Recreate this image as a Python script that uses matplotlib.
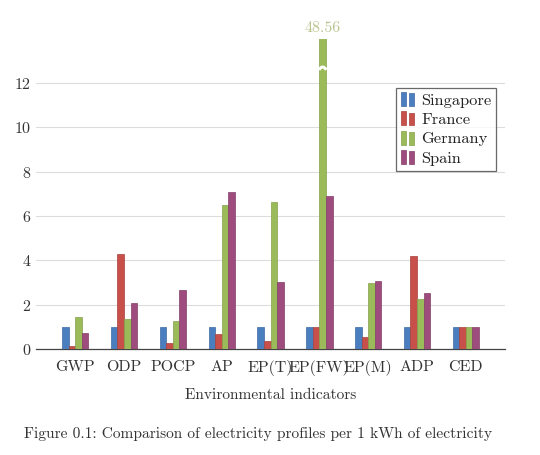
import numpy as np
import matplotlib
matplotlib.use("Agg")
import matplotlib.pyplot as plt
from matplotlib.patches import Rectangle
from matplotlib.legend_handler import HandlerBase

plt.rcParams["font.family"] = "cmr10"
plt.rcParams["mathtext.fontset"] = "cm"
plt.rcParams["axes.formatter.use_mathtext"] = True

# Data
indicators = ["GWP", "ODP", "POCP", "AP", "EP(T)", "EP(FW)", "EP(M)", "ADP", "CED"]
countries = ["Singapore", "France", "Germany", "Spain"]
singapore = [1, 1, 1, 1, 1, 1, 1, 1, 1]
france = [0.12, 4.3, 0.27, 0.67, 0.38, 1.0, 0.55, 4.2, 1.0]
germany = [1.43, 1.37, 1.27, 6.5, 6.65, 48.56, 2.97, 2.25, 1.0]
spain = [0.73, 2.07, 2.68, 7.1, 3.03, 6.9, 3.05, 2.53, 1.0]
series = [singapore, france, germany, spain]

colors = ["#4a7ebf", "#c8504b", "#9bbb5a", "#9e4c7e"]
edges = ["#3d6aa3", "#a8403c", "#84a149", "#843e69"]


class TwoBarHandler(HandlerBase):
    # pgfplots-like ybar legend glyph: two small bars
    def create_artists(self, legend, orig_handle, xdescent, ydescent,
                       width, height, fontsize, trans):
        fc = orig_handle.get_facecolor()
        ec = orig_handle.get_edgecolor()
        w = width * 0.3
        r1 = Rectangle((-xdescent + width * 0.02, -ydescent - 1), w, height + 2,
                       facecolor=fc, edgecolor=ec, lw=0.5, transform=trans)
        r2 = Rectangle((-xdescent + width * 0.52, -ydescent - 1), w, height + 1,
                       facecolor=fc, edgecolor=ec, lw=0.5, transform=trans)
        return [r1, r2]


fig = plt.figure(figsize=(5.4, 4.55), dpi=100)
ax = fig.add_axes([0.067, 0.233, 0.868, 0.682])

x = np.arange(len(indicators))
w = 0.135
handles = []
for i, (vals, name) in enumerate(zip(series, countries)):
    bars = ax.bar(x + (i - 1.5) * w, vals, width=w, color=colors[i],
                  edgecolor=edges[i], linewidth=0.5, label=name, zorder=3)
    handles.append(bars[0])

ax.set_ylim(0, 14)
ax.set_xlim(-0.8, len(indicators) - 0.2)
ax.set_yticks([0, 2, 4, 6, 8, 10, 12])
ax.set_xticks(x)
ax.set_xticklabels(indicators)
ax.tick_params(axis="both", length=0, labelsize=11.5, colors="#333333")
ax.tick_params(axis="x", pad=8)
ax.grid(axis="y", color="#dcdcdc", linewidth=0.8, zorder=0)
for s in ["top", "right", "left"]:
    ax.spines[s].set_visible(False)
ax.spines["bottom"].set_color("#444444")
ax.spines["bottom"].set_linewidth(0.9)
ax.set_xlabel("Environmental indicators", fontsize=11.1, color="#333333", labelpad=9)

# broken bar for Germany EP(FW)
big = ax.patches[2 * len(indicators) + 5]
bx0 = big.get_x() - 0.01
bx1 = big.get_x() + big.get_width() + 0.01
xs = np.linspace(bx0, bx1, 20)
ys = 12.6 + 0.12 * np.sin((xs - bx0) / (bx1 - bx0) * np.pi)
ax.plot(xs, ys, color="white", lw=2.2, zorder=4, solid_capstyle="butt")
ax.annotate("48.56", (big.get_x() + big.get_width() / 2, 14), xytext=(0, 3),
            textcoords="offset points", ha="center", va="bottom",
            fontsize=11.5, color="#b9c48f", annotation_clip=False)

leg = ax.legend(handles=handles, labels=countries, loc="upper right",
                bbox_to_anchor=(0.982, 0.84), fontsize=11.8, frameon=True,
                fancybox=False, edgecolor="#444444", handlelength=0.95,
                handletextpad=0.3, borderpad=0.3, labelspacing=0.3,
                borderaxespad=0,
                handler_map={h: TwoBarHandler() for h in handles})
leg.get_frame().set_linewidth(0.9)
for t in leg.get_texts():
    t.set_color("#222222")
    t.set_ha("center")

fig.text(0.478, 0.047, "Figure 0.1: Comparison of electricity profiles per 1 kWh of electricity",
         ha="center", va="center", fontsize=11.1, color="#333333")

fig.savefig("out.png", dpi=100)
